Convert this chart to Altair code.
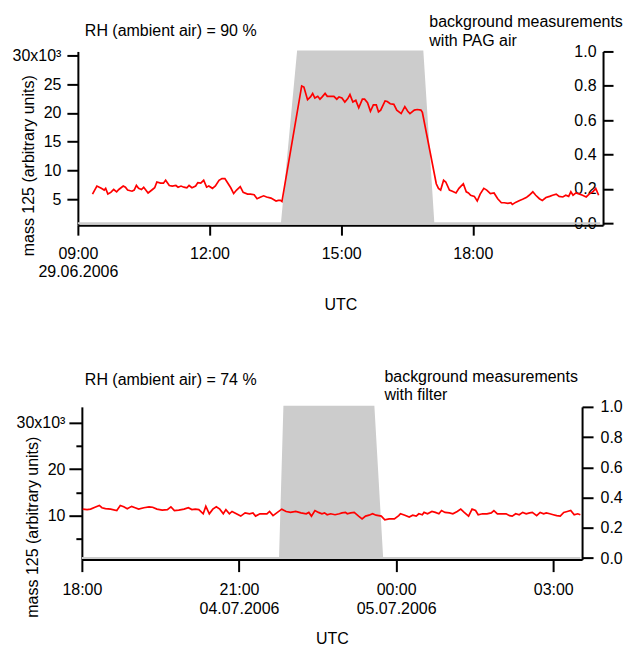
import altair as alt
import pandas as pd

FONT = "Liberation Sans"
FS = 16
RED = "#ff0000"
GREY = "#cccccc"

# ---------------------------------------------------------------------------
# 29.06.2006, RH (ambient air) = 90 %  -- mass 125 signal in units of 10^3
# ---------------------------------------------------------------------------
day1 = "2006-06-29"
top_times = [
    "09:20", "09:26", "09:32", "09:36", "09:38", "09:41", "09:45", "09:49", "09:53", "09:56",
    "10:02", "10:05", "10:08", "10:14", "10:17", "10:20", "10:23", "10:27", "10:30", "10:36",
    "10:42", "10:45", "10:48", "10:53", "10:57", "11:00", "11:05", "11:09", "11:14", "11:17",
    "11:21", "11:25", "11:29", "11:32", "11:36", "11:41", "11:44", "11:48", "11:52", "11:56",
    "11:59", "12:04", "12:08", "12:13", "12:17", "12:21", "12:24", "12:29", "12:33", "12:37",
    "12:42", "12:46", "12:52", "12:56", "13:01", "13:05", "13:10", "13:14", "13:18", "13:24",
    "13:31", "13:34", "13:37", "13:39", "14:06", "14:09", "14:14", "14:18", "14:21", "14:24",
    "14:28", "14:31", "14:34", "14:38", "14:41", "14:46", "14:50", "14:54", "14:57", "15:01",
    "15:05", "15:09", "15:12", "15:16", "15:20", "15:24", "15:29", "15:32", "15:36", "15:40",
    "15:44", "15:48", "15:51", "15:54", "16:00", "16:03", "16:07", "16:12", "16:16", "16:22",
    "16:27", "16:31", "16:34", "16:40", "16:44", "16:49", "16:51", "17:10", "17:13", "17:16",
    "17:20", "17:23", "17:28", "17:32", "17:37", "17:41", "17:47", "17:51", "17:54", "17:57",
    "18:02", "18:06", "18:10", "18:15", "18:19", "18:24", "18:29", "18:34", "18:39", "18:43",
    "18:48", "18:52", "18:54", "18:59", "19:04", "19:08", "19:13", "19:17", "19:22", "19:26",
    "19:31", "19:35", "19:40", "19:45", "19:49", "19:54", "19:58", "20:03", "20:07", "20:11",
    "20:14", "20:17", "20:21", "20:26", "20:30", "20:35", "20:39", "20:44", "20:48", "20:52",
]
top_mass125 = [
    5.9, 7.3, 6.9, 6.6, 6.9, 5.9, 6.2, 6.7, 6.3, 6.7,
    7.3, 7.1, 6.6, 6.4, 6.6, 7.4, 6.9, 6.7, 7.1, 6.1,
    6.7, 7.0, 8.0, 7.8, 7.8, 8.3, 7.4, 7.3, 7.4, 7.1,
    7.3, 7.1, 7.0, 7.4, 7.0, 7.3, 7.9, 7.8, 8.3, 7.1,
    7.3, 6.9, 7.3, 8.3, 8.6, 8.6, 8.0, 7.0, 6.0, 6.6,
    7.2, 6.2, 5.9, 5.9, 5.8, 5.1, 5.4, 5.6, 5.4, 5.2,
    4.7, 4.8, 4.8, 4.6, 24.7, 24.5, 22.3, 22.8, 23.4, 22.6,
    22.9, 22.4, 22.8, 23.4, 22.9, 22.9, 22.9, 22.4, 22.8, 22.6,
    21.9, 22.5, 23.2, 21.9, 22.2, 20.9, 22.4, 22.4, 21.8, 20.3,
    21.4, 21.4, 20.2, 20.5, 22.1, 22.0, 21.6, 21.5, 20.5, 19.9,
    21.1, 20.3, 19.9, 20.5, 20.6, 20.5, 20.1, 7.7, 6.9, 6.6,
    8.3, 8.0, 6.6, 6.4, 6.1, 6.9, 7.7, 6.3, 6.1, 5.7,
    5.5, 4.7, 5.9, 6.9, 6.6, 6.0, 6.1, 5.1, 4.4, 4.4,
    4.3, 4.4, 4.1, 4.5, 4.8, 5.0, 5.3, 5.7, 6.3, 5.7,
    5.1, 4.8, 5.3, 5.5, 5.7, 5.9, 5.5, 5.4, 5.7, 5.5,
    6.3, 5.7, 6.1, 5.9, 5.7, 5.4, 5.9, 6.3, 6.9, 5.7,
]
# background measurement with PAG air switched on (1) / off (0)
top_bg_times = ["09:00", "13:39", "14:01", "16:51", "17:06", "20:54"]
top_bg_state = [0, 0, 1, 1, 0, 0]

# ---------------------------------------------------------------------------
# 04./05.07.2006, RH (ambient air) = 74 %
# ---------------------------------------------------------------------------
day2 = "2006-07-04"
bot_times = [
    "18:01", "18:06", "18:10", "18:15", "18:20", "18:23", "18:27", "18:33", "18:40", "18:44",
    "18:48", "18:52", "18:57", "19:01", "19:05", "19:11", "19:17", "19:21", "19:26", "19:32",
    "19:38", "19:42", "19:46", "19:51", "19:57", "20:02", "20:06", "20:10", "20:14", "20:19",
    "20:22", "20:26", "20:30", "20:34", "20:38", "20:42", "20:45", "20:49", "20:52", "20:57",
    "21:02", "21:07", "21:12", "21:16", "21:19", "21:24", "21:29", "21:32", "21:35", "21:39",
    "21:44", "21:49", "21:54", "21:59", "22:05", "22:11", "22:17", "22:20", "22:23", "22:27",
    "22:31", "22:35", "22:38", "22:41", "22:45", "22:50", "22:55", "22:58", "23:02", "23:04",
    "23:08", "23:12", "23:17", "23:21", "23:25", "23:29", "23:33", "23:37", "23:43", "23:47",
    "23:52", "23:58", "00:03", "00:05", "00:10", "00:15", "00:19", "00:23", "00:26", "00:30",
    "00:32", "00:36", "00:41", "00:45", "00:49", "00:52", "00:56", "01:01", "01:05", "01:10",
    "01:14", "01:18", "01:23", "01:27", "01:31", "01:34", "01:39", "01:44", "01:49", "01:52",
    "01:56", "02:01", "02:06", "02:10", "02:13", "02:17", "02:21", "02:25", "02:29", "02:33",
    "02:36", "02:41", "02:45", "02:49", "02:52", "02:56", "03:00", "03:04", "03:08", "03:12",
    "03:16", "03:20", "03:24", "03:28", "03:31",
]
bot_mass125 = [
    11.4, 11.3, 11.4, 11.8, 12.2, 11.7, 11.5, 11.4, 11.1, 12.2,
    11.9, 11.5, 12.0, 11.7, 11.4, 11.7, 11.9, 11.8, 11.4, 11.2,
    11.3, 11.9, 11.1, 11.2, 11.4, 11.7, 11.3, 11.4, 11.3, 10.4,
    12.0, 10.4, 11.4, 11.9, 11.4, 10.4, 11.3, 10.4, 10.9, 10.4,
    9.9, 10.6, 10.4, 10.6, 9.9, 10.4, 10.4, 10.4, 10.9, 10.0,
    10.7, 11.4, 10.9, 10.7, 10.9, 10.6, 10.4, 10.7, 9.9, 11.1,
    10.7, 10.4, 10.6, 10.2, 10.4, 10.2, 10.4, 10.6, 10.7, 10.4,
    10.6, 10.7, 9.9, 9.3, 9.9, 10.1, 10.4, 10.1, 9.9, 9.1,
    9.3, 9.3, 10.0, 10.4, 10.1, 9.7, 10.1, 9.9, 10.4, 10.2,
    10.7, 10.4, 10.9, 10.7, 10.4, 11.1, 10.7, 10.6, 10.4, 10.9,
    11.4, 10.7, 9.9, 11.4, 11.1, 10.2, 10.4, 10.4, 10.6, 11.1,
    10.4, 10.4, 10.4, 10.0, 9.9, 10.4, 10.2, 10.7, 10.4, 10.6,
    10.7, 10.0, 10.7, 10.4, 10.6, 10.4, 10.2, 10.0, 9.9, 10.7,
    10.9, 11.1, 10.2, 10.4, 10.2,
]
# background measurement through the particle filter switched on (1) / off (0)
bot_bg_times = ["18:00", "21:47", "21:52", "23:34", "23:44", "03:31"]
bot_bg_state = [0, 0, 1, 1, 0, 0]


def stamps(day, times, rollover=None):
    """ISO UTC timestamps; times earlier than `rollover` belong to the next day."""
    out = []
    for t in times:
        ts = pd.Timestamp(f"{day}T{t}:00")
        if rollover is not None and t < rollover:
            ts += pd.Timedelta(days=1)
        out.append(ts.strftime("%Y-%m-%dT%H:%M:%SZ"))
    return out


top_line = pd.DataFrame({"time": stamps(day1, top_times), "mass125": top_mass125})
top_bg = pd.DataFrame({"time": stamps(day1, top_bg_times), "bg": top_bg_state})
bot_line = pd.DataFrame({"time": stamps(day2, bot_times, "18:00"), "mass125": bot_mass125})
bot_bg = pd.DataFrame({"time": stamps(day2, bot_bg_times, "18:00"), "bg": bot_bg_state})


def dt(y, mo, d, h, mi=0):
    return alt.DateTime(year=y, month=mo, date=d, hours=h, minutes=mi, utc=True)


def panel(line_df, bg_df, x_domain, x_ticks, date_hours, y_domain, y_axis,
          bg_domain, bg_axis, width, height, x_tick, rh_text, bg_text,
          rh_pos, bg_pos, inset=0):
    """One time panel: grey background-measurement area (right axis) and the
    red mass-125 trace (left axis).  `inset` moves the time axis and the left
    axis a few pixels into the panel."""
    date_test = " || ".join(f"utchours(datum.value) == {h}" for h in date_hours)
    x_axis = alt.Axis(
        values=x_ticks, tickSize=x_tick, labelPadding=10, labelLineHeight=18.5,
        labelExpr=f"({date_test}) ? [utcFormat(datum.value, '%H:%M'), "
                  f"utcFormat(datum.value, '%d.%m.%Y')] : utcFormat(datum.value, '%H:%M')",
        labelFlush=False, labelOverlap=False,
        title="UTC", titleY=84, titleBaseline="alphabetic",
    )
    x_scale = alt.Scale(type="utc", domain=x_domain, range=[inset, width])
    x = alt.X("time:T", scale=x_scale, axis=x_axis)

    area = alt.Chart(bg_df).mark_area(
        fill=GREY, stroke=GREY, strokeWidth=2, interpolate="linear"
    ).encode(
        x=x,
        y=alt.Y("bg:Q", scale=alt.Scale(domain=bg_domain, nice=False, zero=False), axis=bg_axis),
    )
    line = alt.Chart(line_df).mark_line(color=RED, strokeWidth=1.7).encode(
        x=x,
        y=alt.Y("mass125:Q", scale=alt.Scale(domain=y_domain, nice=False, zero=False), axis=y_axis),
    )
    rh = alt.Chart(pd.DataFrame({"txt": [rh_text]})).mark_text(
        font=FONT, fontSize=FS, align="center", baseline="middle", color="black"
    ).encode(x=alt.value(rh_pos[0]), y=alt.value(rh_pos[1]), text="txt:N")
    bg = alt.Chart(pd.DataFrame({"txt": [bg_text]})).mark_text(
        font=FONT, fontSize=FS, align="left", baseline="top", color="black",
        lineBreak="\n", lineHeight=18.5,
    ).encode(x=alt.value(bg_pos[0]), y=alt.value(bg_pos[1]), text="txt:N")
    return alt.layer(area, line, rh, bg).resolve_scale(y="independent").properties(
        width=width, height=height
    )


# the top tick carries the 10^3 multiplier of the scale
sup = "datum.value == 30 ? '30x10\u00b3' : datum.label"

top = panel(
    top_line, top_bg,
    x_domain=[dt(2006, 6, 29, 9), dt(2006, 6, 29, 20, 58)],
    x_ticks=[dt(2006, 6, 29, h) for h in (9, 12, 15, 18)],
    date_hours=[9],
    y_domain=[0.5, 30.7],
    y_axis=alt.Axis(
        orient="left", values=[5, 10, 15, 20, 25, 30], tickSize=11, labelPadding=6,
        labelExpr=sup, title="mass 125 (arbitrary units)", titleAngle=270,
        titleAlign="center", titleBaseline="alphabetic", titleX=-44, titleY=114,
    ),
    bg_domain=[-0.0116, 1.0],
    bg_axis=alt.Axis(
        orient="right", values=[0, 0.2, 0.4, 0.6, 0.8, 1.0], format=".1f",
        tickSize=10, labelPadding=-17, labelAlign="right", title=None,
    ),
    width=526, height=174, x_tick=10,
    rh_text="RH (ambient air) = 90 %",
    bg_text="background measurements\nwith PAG air",
    rh_pos=(93, -20), bg_pos=(352, -37),
)

INSET = 4
bottom = panel(
    bot_line, bot_bg,
    x_domain=[dt(2006, 7, 4, 18), dt(2006, 7, 5, 3, 33)],
    x_ticks=[dt(2006, 7, 4, 18), dt(2006, 7, 4, 21), dt(2006, 7, 5, 0), dt(2006, 7, 5, 3)],
    date_hours=[21, 0],
    y_domain=[0.54, 33.4],
    y_axis=alt.Axis(
        orient="left", offset=-INSET, values=[5, 10, 15, 20, 25, 30],
        tickSize={"condition": {"test": "datum.value % 10 == 0", "value": 13}, "value": 6},
        labelPadding=4,
        labelExpr="datum.value % 10 == 0 ? (" + sup + ") : ''",
        title="mass 125 (arbitrary units)", titleAngle=270,
        titleAlign="center", titleBaseline="alphabetic", titleX=-44, titleY=120,
    ),
    bg_domain=[-0.01, 1.0],
    bg_axis=alt.Axis(
        orient="right", values=[0, 0.2, 0.4, 0.6, 0.8, 1.0], format=".1f",
        tickSize=11, labelPadding=7, title=None,
    ),
    width=505, height=153, x_tick=12,
    rh_text="RH (ambient air) = 74 %",
    bg_text="background measurements\nwith filter",
    rh_pos=(93, -27), bg_pos=(307, -38), inset=INSET,
)

chart = alt.vconcat(top, bottom, spacing=57).properties(
    padding={"left": 12, "top": 14, "right": 0, "bottom": 0}
).configure_view(stroke=None).configure_axis(
    grid=False,
    domainColor="black", domainWidth=2,
    tickColor="black", tickWidth=2,
    labelColor="black", labelFont=FONT, labelFontSize=FS,
    titleColor="black", titleFont=FONT, titleFontSize=FS, titleFontWeight="normal",
)

chart.save("out.html", embed_options={"renderer": "svg", "actions": False})
